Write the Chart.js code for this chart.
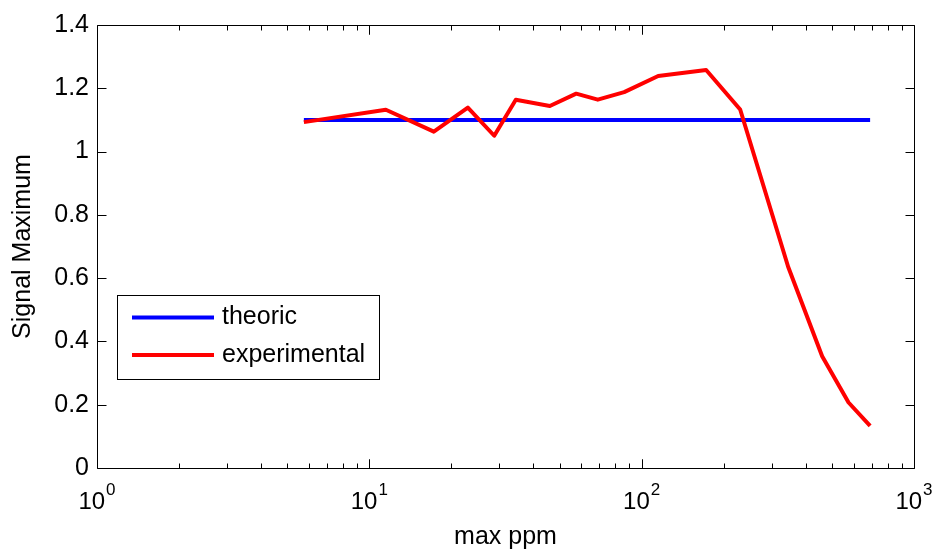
<!DOCTYPE html>
<html>
<head>
<meta charset="utf-8">
<script src="https://cdn.jsdelivr.net/npm/chart.js@4/dist/chart.umd.min.js"></script>
<style>
  html, body { margin: 0; padding: 0; background: #fff; }
  #wrap { width: 934px; height: 549px; }
</style>
</head>
<body>
<div id="wrap"><canvas id="c" width="934" height="549"></canvas></div>
<script>
// Concentration (max ppm) and measured signal maxima
const ppmValues = [5.75, 11.5, 17.25, 23, 28.75, 34.5, 46, 57.5, 69, 86.25, 115, 172.5, 230, 345, 460, 575, 690];
const experimental = [1.093, 1.132, 1.063, 1.139, 1.050, 1.164, 1.144, 1.183, 1.164, 1.188, 1.239, 1.258, 1.133, 0.636, 0.353, 0.207, 0.133];
// Theoretical level over the same range
const theoricPpm = [5.75, 690];
const theoric = [1.1, 1.1];
// Axis ticks
const xDecades = [1, 10, 100, 1000];
const yTicks = [0, 0.2, 0.4, 0.6, 0.8, 1, 1.2, 1.4];

const FONT = 'Arial, "Liberation Sans", Helvetica, sans-serif';

const toPoints = (xs, ys) => xs.map((x, i) => ({ x: x, y: ys[i] }));

// Box, inward ticks, superscript decade labels and legend
const matlabAxes = {
  id: 'matlabAxes',
  afterDatasetsDraw(chart) {
    const ctx = chart.ctx;
    const { left, right, top, bottom } = chart.chartArea;
    const xs = chart.scales.x, ys = chart.scales.y;
    const L = Math.round(left) + 0.5, R = Math.round(right) + 0.5;
    const T = Math.round(top) + 0.5, B = Math.round(bottom) + 0.5;
    ctx.save();
    ctx.strokeStyle = '#000';
    ctx.lineWidth = 1;
    ctx.beginPath();
    ctx.rect(L, T, R - L, B - T);
    // x ticks (log): majors at decades, minors at 2..9
    for (let k = 0; k < 3; k++) {
      for (let m = 1; m <= 10; m++) {
        const v = Math.pow(10, k) * m;
        const px = Math.round(xs.getPixelForValue(v)) + 0.5;
        const len = (m === 1 || m === 10) ? 9 : 5;
        ctx.moveTo(px, B); ctx.lineTo(px, B - len);
        ctx.moveTo(px, T); ctx.lineTo(px, T + len);
      }
    }
    // y ticks
    yTicks.forEach(v => {
      const py = Math.round(ys.getPixelForValue(v)) + 0.5;
      ctx.moveTo(L, py); ctx.lineTo(L + 9, py);
      ctx.moveTo(R, py); ctx.lineTo(R - 9, py);
    });
    ctx.stroke();

    // decade labels 10^n
    ctx.fillStyle = '#000';
    ctx.textBaseline = 'alphabetic';
    ctx.textAlign = 'left';
    xDecades.forEach(v => {
      const px = xs.getPixelForValue(v);
      const exp = String(Math.round(Math.log10(v)));
      ctx.font = '24px ' + FONT;
      const w1 = ctx.measureText('10').width;
      ctx.font = '17px ' + FONT;
      const w2 = ctx.measureText(exp).width;
      const total = w1 + 1 + w2;
      const x0 = px - total / 2;
      ctx.font = '24px ' + FONT;
      ctx.fillText('10', x0, 509);
      ctx.font = '17px ' + FONT;
      ctx.fillText(exp, x0 + w1 + 1, 495);
    });

    // legend
    const bx = 117.5, by = 295.5, bw = 262, bh = 84;
    ctx.fillStyle = '#fff';
    ctx.fillRect(bx, by, bw, bh);
    ctx.strokeStyle = '#000';
    ctx.lineWidth = 1;
    ctx.strokeRect(bx, by, bw, bh);
    const rows = [317.5, 355];
    chart.data.datasets.forEach((ds, i) => {
      const y = rows[i];
      ctx.strokeStyle = ds.borderColor;
      ctx.lineWidth = 4;
      ctx.beginPath();
      ctx.moveTo(132, y); ctx.lineTo(214, y);
      ctx.stroke();
      ctx.fillStyle = '#000';
      ctx.font = '25px ' + FONT;
      ctx.textBaseline = 'middle';
      ctx.fillText(ds.label, 222, y);
    });
    ctx.restore();
  }
};

new Chart(document.getElementById('c'), {
  type: 'line',
  data: {
    datasets: [
      {
        label: 'theoric',
        data: toPoints(theoricPpm, theoric),
        borderColor: '#0000ff',
        borderWidth: 4,
        pointRadius: 0,
        tension: 0,
        order: 1
      },
      {
        label: 'experimental',
        data: toPoints(ppmValues, experimental),
        borderColor: '#ff0000',
        borderWidth: 4,
        pointRadius: 0,
        tension: 0,
        borderJoinStyle: 'round',
        order: 0
      }
    ]
  },
  options: {
    responsive: false,
    animation: false,
    events: [],
    layout: { padding: { top: 25, right: 20, left: 0, bottom: 0 } },
    plugins: { legend: { display: false }, tooltip: { enabled: false } },
    scales: {
      x: {
        type: 'logarithmic',
        min: 1,
        max: 1000,
        grid: { display: false, drawTicks: false },
        border: { display: false },
        ticks: { display: false },
        title: {
          display: true,
          text: 'max ppm',
          color: '#000',
          font: { family: FONT, size: 25 },
          padding: { top: 0, bottom: -3 }
        },
        afterFit: s => { s.height = 81; }
      },
      y: {
        min: 0,
        max: 1.4,
        afterBuildTicks: s => { s.ticks = yTicks.map(v => ({ value: v })); },
        grid: { display: false, drawTicks: false },
        border: { display: false },
        ticks: {
          color: '#000',
          padding: 8,
          font: { family: FONT, size: 25 },
          callback: v => String(Number(v.toFixed(1)))
        },
        title: {
          display: true,
          text: 'Signal Maximum',
          color: '#000',
          font: { family: FONT, size: 25 },
          padding: { top: 8, bottom: 0 }
        },
        afterFit: s => { s.width = 97; }
      }
    }
  },
  plugins: [matlabAxes]
});
</script>
</body>
</html>
